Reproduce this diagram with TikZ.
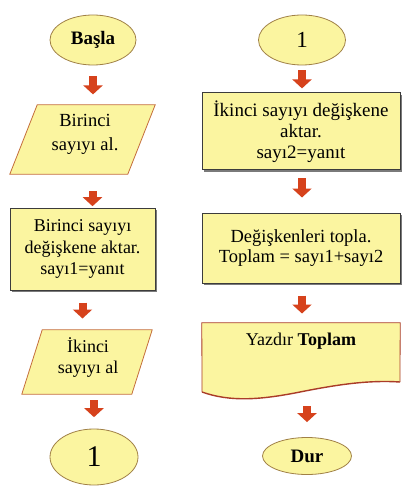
\documentclass[tikz,border=0pt]{standalone}
\usepackage{fontspec}
\setmainfont{Liberation Serif}
\usetikzlibrary{shapes.geometric,arrows.meta,calc,shadows}
\definecolor{fillY}{RGB}{251,245,160}
\definecolor{ellB}{RGB}{160,128,70}
\definecolor{paraB}{RGB}{196,110,60}
\definecolor{rectB}{RGB}{60,60,60}
\definecolor{arrR}{RGB}{214,66,28}
\definecolor{docB}{RGB}{170,60,40}
\tikzset{
  term/.style={ellipse, draw=ellB, line width=0.8pt, fill=fillY, inner sep=0pt, font=\fontsize{19}{22}\selectfont\bfseries},
  numterm/.style={ellipse, draw=ellB, line width=0.8pt, fill=fillY, inner sep=0pt},
  box/.style={rectangle, draw=rectB, line width=1pt, fill=fillY, inner sep=0pt, align=center,
    font=\fontsize{18}{21.5}\selectfont,
    drop shadow={shadow xshift=2pt, shadow yshift=-2pt, fill=black!65, opacity=0.8}},
  holder/.style={rectangle, draw=none, inner sep=0pt, align=center, font=\fontsize{18}{22}\selectfont},
  paraline/.style={draw=paraB, line width=0.8pt, fill=fillY},
  barrow/.style={draw=arrR, line width=8pt, -{Triangle[width=19pt,length=9pt]}},
}
\begin{document}
\begin{tikzpicture}[x=1pt,y=-1pt]
\useasboundingbox (0,0) rectangle (401,486);
\fill[white] (0,0) rectangle (401,486);

% left column
\node[term, minimum width=86pt, minimum height=50pt] (start) at (93,40) {Başla};

\node[holder, minimum width=145pt, minimum height=69pt] (p1) at (82.5,139.5) {};
\draw[paraline] (p1.south west) -- ++(118,0) -- (p1.north east) -- ++(-118,0) -- cycle;
\node[holder, font=\fontsize{18.5}{24}\selectfont] (p1t) at (85,134) {Birinci\\sayıyı al.};

\node[box, minimum width=145pt, minimum height=82pt] (r1) at (82.5,249) {Birinci sayıyı\\değişkene aktar.\\sayı1=yanıt};

\node[holder, minimum width=130pt, minimum height=64pt] (p2) at (87,362) {};
\draw[paraline] (p2.south west) -- ++(110,0) -- (p2.north east) -- ++(-110,0) -- cycle;
\node[holder, font=\fontsize{18}{21}\selectfont] (p2t) at (88,358) {İkinci\\sayıyı al};

\node[numterm, minimum width=88pt, minimum height=56pt, font=\fontsize{30}{32}\selectfont] (c1) at (94,457) {1};

% right column
\node[numterm, minimum width=87pt, minimum height=50pt, font=\fontsize{23}{26}\selectfont] (c2) at (302,40) {1};

\node[box, minimum width=198pt, minimum height=77pt, font=\fontsize{19}{21}\selectfont] (r2) at (301,131.5) {İkinci sayıyı değişkene\\aktar.\\sayı2=yanıt};

\node[box, minimum width=198pt, minimum height=70pt, font=\fontsize{18.5}{20}\selectfont] (r3) at (301,248) {Değişkenleri topla.\\Toplam = sayı1+sayı2};

\node[holder, minimum width=198pt, minimum height=60pt] (doc) at (301,353) {};
\fill[fillY] (doc.north west) -- (doc.north east) -- (400,382)
  .. controls (370,380) and (340,384) .. (300,392)
  .. controls (260,400) and (230,402) .. (202,392) -- cycle;
\draw[docB, line width=0.8pt] (202,392) -- (doc.north west) -- (doc.north east) -- (400,382);
\draw[docB, line width=1.4pt] (400,382)
  .. controls (370,380) and (340,384) .. (300,392)
  .. controls (260,400) and (230,402) .. (202,392);
\node[holder] (doct) at (301,341) {Yazdır \textbf{Toplam}};

\node[term, minimum width=89pt, minimum height=37pt] (dur) at (307,456) {Dur};

% arrows
\draw[barrow] ($(start.south)+(0,11)$) -- ($(start.south)+(0,29)$);
\draw[barrow] ($(p1.south)+(10,17)$) -- ($(p1.south)+(10,32)$);
\draw[barrow] ($(r1.south)+(0,12)$) -- ($(r1.south)+(0,28)$);
\draw[barrow] ($(p2.south)+(7,6)$) -- ($(p2.south)+(7,23)$);
\draw[barrow] ($(c2.south)+(0,5)$) -- ($(c2.south)+(0,23)$);
\draw[barrow] ($(r2.south)+(1,8)$) -- ($(r2.south)+(1,27)$);
\draw[barrow] ($(r3.south)+(1,12)$) -- ($(r3.south)+(1,30)$);
\draw[barrow] ($(dur.north)+(0,-31)$) -- ($(dur.north)+(0,-15)$);
\end{tikzpicture}
\end{document}
